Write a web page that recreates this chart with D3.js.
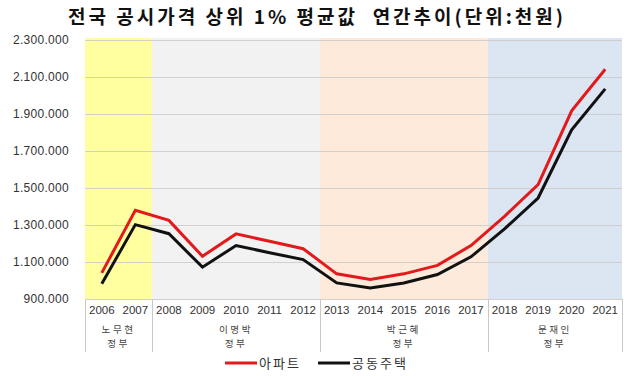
<!DOCTYPE html>
<html>
<head>
<meta charset="utf-8">
<script src="https://cdn.jsdelivr.net/npm/d3@7"></script>
<style>
  body { margin: 0; background: #fff; }
  svg { display: block; font-family: "Noto Sans CJK KR", "Noto Sans", sans-serif; }
</style>
</head>
<body>
<div id="chart"></div>
<script>
const years = ["2006","2007","2008","2009","2010","2011","2012","2013","2014","2015","2016","2017","2018","2019","2020","2021"];
const apartment = [1041000,1379000,1325000,1131000,1252000,1212000,1172000,1036000,1005000,1036000,1082000,1189000,1347000,1518000,1917000,2142000];
const housing = [982000,1302000,1253000,1072000,1189000,1150000,1113000,987000,960000,987000,1032000,1128000,1279000,1446000,1814000,2036000];
const yTicks = [900000,1100000,1300000,1500000,1700000,1900000,2100000,2300000];
const govNames = [["노무현","정부"],["이명박","정부"],["박근혜","정부"],["문재인","정부"]];
const govSpans = [[0,1],[2,6],[7,11],[12,15]];
const govColors = ["#ffff9f","#f2f2f2","#fdeadb","#dce6f2"];
const seriesNames = ["아파트","공동주택"];

const width = 634, height = 376;
const plotL = 85, plotR = 622, plotT = 40, plotB = 299;

const svg = d3.select('#chart').append('svg')
  .attr('width', width)
  .attr('height', height);

let x = d3.scaleBand().domain(years).range([plotL, plotR]);
let y = d3.scaleLinear().domain([900000, 2300000]).range([plotB, plotT]);

// government background bands
svg.append('g').selectAll('rect')
  .data(govSpans)
  .enter()
  .append('rect')
  .attr('x', d => x(years[d[0]]))
  .attr('y', plotT - 2)
  .attr('width', d => x(years[d[1]]) + x.bandwidth() - x(years[d[0]]))
  .attr('height', plotB - plotT + 2)
  .attr('fill', (d, i) => govColors[i]);

// gridlines
svg.append('g').selectAll('line')
  .data(yTicks.slice(1))
  .enter()
  .append('line')
  .attr('x1', plotL)
  .attr('x2', plotR)
  .attr('y1', d => Math.round(y(d)) + 0.5)
  .attr('y2', d => Math.round(y(d)) + 0.5)
  .attr('stroke', '#c8c8c8')
  .attr('stroke-opacity', 0.8);

// y axis labels
let fmt = d => d3.format(',')(d).replace(/,/g, '.');
svg.append('g').selectAll('text')
  .data(yTicks)
  .enter()
  .append('text')
  .attr('x', 69)
  .attr('y', d => y(d) + 4)
  .attr('text-anchor', 'end')
  .attr('font-family', 'Liberation Sans, Arial, sans-serif')
  .attr('font-size', 12)
  .attr('letter-spacing', 0.3)
  .attr('fill', '#333')
  .text(fmt);

// category axis
let axisG = svg.append('g');
axisG.append('line')
  .attr('x1', plotL).attr('x2', plotR)
  .attr('y1', plotB + 0.5).attr('y2', plotB + 0.5)
  .attr('stroke', '#d0d0d0');
let bounds = [plotL].concat(govSpans.map(d => x(years[d[1]]) + x.bandwidth()));
axisG.selectAll('line.sep')
  .data(bounds)
  .enter()
  .append('line')
  .attr('class', 'sep')
  .attr('x1', d => Math.round(d) + 0.5)
  .attr('x2', d => Math.round(d) + 0.5)
  .attr('y1', plotB)
  .attr('y2', 352)
  .attr('stroke', '#c8c8c8');
axisG.selectAll('text.year')
  .data(years)
  .enter()
  .append('text')
  .attr('class', 'year')
  .attr('x', d => x(d) + x.bandwidth() / 2)
  .attr('y', 314)
  .attr('text-anchor', 'middle')
  .attr('font-family', 'Liberation Sans, Arial, sans-serif')
  .attr('font-size', 11.5)
  .attr('fill', '#333')
  .text(d => d);
// two-line government labels
govSpans.forEach((s, i) => {
  let cx = (x(years[s[0]]) + x(years[s[1]]) + x.bandwidth()) / 2;
  govNames[i].forEach((t, j) => {
    axisG.append('text')
      .attr('x', cx)
      .attr('y', 333 + j * 14)
      .attr('text-anchor', 'middle')
      .attr('font-size', 9.6)
      .attr('letter-spacing', 2.5)
      .attr('fill', '#444')
      .text(t);
  });
});

// lines
let line = d3.line()
  .x((d, i) => x(years[i]) + x.bandwidth() / 2)
  .y(d => y(d));
let seriesData = [apartment, housing];
let seriesColors = ['#e31a1c', '#111111'];
svg.append('g').selectAll('path')
  .data(seriesData)
  .enter()
  .append('path')
  .attr('d', line)
  .attr('fill', 'none')
  .attr('stroke', (d, i) => seriesColors[i])
  .attr('stroke-width', 3)
  .attr('stroke-linejoin', 'miter');

// legend
let legendX = [225, 318];
seriesNames.forEach((n, i) => {
  svg.append('line')
    .attr('x1', legendX[i]).attr('x2', legendX[i] + 32)
    .attr('y1', 363).attr('y2', 363)
    .attr('stroke', seriesColors[i])
    .attr('stroke-width', 3);
  svg.append('text')
    .attr('x', legendX[i] + 34)
    .attr('y', 368)
    .attr('font-size', 13)
    .attr('letter-spacing', 2)
    .attr('fill', '#333')
    .text(n);
});

// title
svg.append('text')
  .attr('x', 317)
  .attr('y', 24)
  .attr('text-anchor', 'middle')
  .attr('font-size', 19)
  .attr('font-weight', 'bold')
  .attr('letter-spacing', 3)
  .style('white-space', 'pre')
  .attr('fill', '#111')
  .text('전국 공시가격 상위 1% 평균값  연간추이(단위:천원)');
</script>
</body>
</html>
